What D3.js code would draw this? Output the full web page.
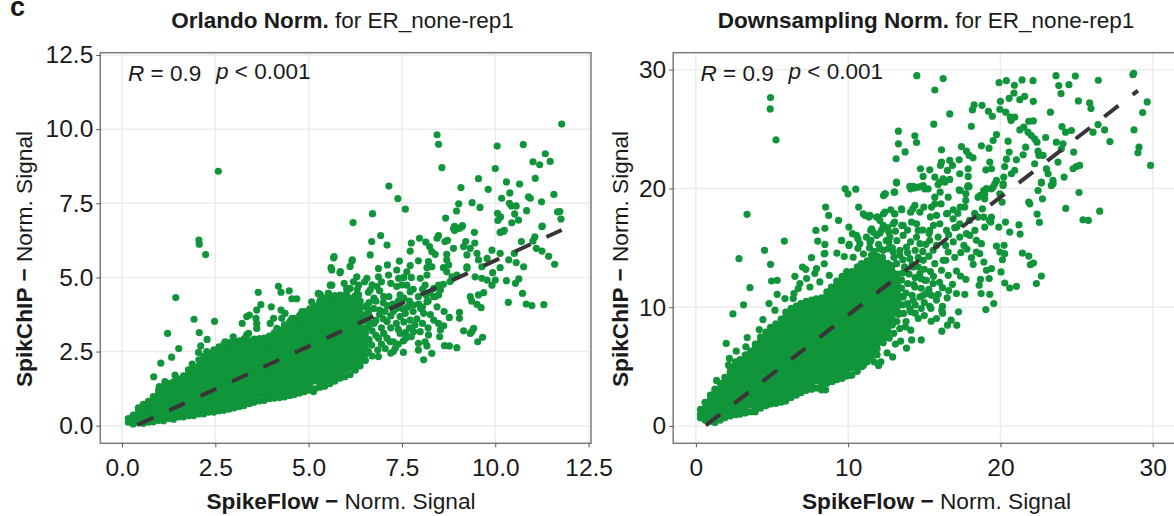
<!DOCTYPE html>
<html lang="en">
<head>
<meta charset="utf-8">
<title>SpikeFlow vs SpikChIP</title>
<script src="https://d3js.org/d3.v7.min.js"></script>
<style>
  html, body { margin: 0; padding: 0; background: #fff; overflow: hidden; }
  text { font-family: "Liberation Sans", Arial, sans-serif; fill: #1a1a1a; }
</style>
</head>
<body>
<div id="chart"></div>
<script>
// tick labels
var orlandoTicks = [0, 2.5, 5, 7.5, 10, 12.5];
var downsamplingTicks = [0, 10, 20, 30];

// fitted lines, [x, y] at both ends
var orlandoFit = [[0.42, 0.03], [11.78, 6.6]];
var downsamplingFit = [[0.65, 0.05], [29.03, 28.24]];

// points that can be told apart in the picture
var orlandoPoints = [[11.78,10.17],[8.44,9.81],[8.48,9.49],[8.57,8.7],[10.05,9.43],[10.75,9.48],[11.34,9.17],[11.01,8.9],[11.19,8.8],[11.47,8.91],[10,8.67],[9.55,8.33],[11.07,8.34],[10.3,8.22],[10.65,8.15],[7.15,8.08],[9.08,8.03],[9.81,7.97],[7.39,7.66],[10.39,7.85],[10.17,7.67],[10.89,7.72],[10.94,7.67],[11.57,7.8],[7.59,7.3],[9.38,7.52],[9.02,7.48],[9.59,7.36],[10.38,7.5],[10.43,7.41],[10.56,7.41],[11.24,7.55],[10.84,7.25],[8.96,7.24],[10.06,7.16],[10.52,7.14],[11.67,7.21],[11.73,7.22],[6.71,7.15],[6.19,6.85],[8.67,7],[10.14,7.04],[10.07,6.92],[10.62,6.93],[10.44,6.84],[11.76,6.97],[11.26,6.73],[8.91,6.72],[9.12,6.75],[8.91,6.58],[9.04,6.66],[9.44,6.52],[10.22,6.55],[10.14,6.53],[6.93,6.41],[6.69,6.21],[7.1,6.09],[7.75,6.16],[7.97,6.32],[8.14,6.19],[8.48,6.41],[8.44,6.32],[8.72,6.25],[8.65,6.21],[9.21,6.21],[9.45,6.16],[10.7,6.21],[11.06,6.37],[11.01,6.23],
[2.58,8.58],[2.06,6.26],[2.07,6.12],[2.24,5.77],[5.68,5.7],[6.17,5.59],
[8.88,6.65],[8.97,6.65],[9.11,6.71],[10.13,6.52],[10.24,6.59],[11.25,6.71],[7.72,5.89],[8.24,6.04],[8.3,5.87],[8.39,5.78],[11.1,5.98],[11.25,5.89],[11.43,5.71],[11.59,5.44],[5.67,5.66],[5.6,5.33],[5.85,5.2],[6.16,5.55],[6.11,5.37],[6.65,5.76],[7.43,5.55],[7.11,5.42],[6.87,5.3],[7.36,5.25],[7.72,5.4],[7.94,5.56],[8.21,5.53],[8.17,5.33],[8.7,5.78],[8.7,5.59],[8.88,5.98],[9.15,6.04],[9.33,5.98],[9.51,5.81],[9.24,5.76],[8.75,5.42],[8.61,5.33],[8.7,5.19],[8.84,5.02],[9.24,5.36],[9.55,5.59],[9.64,5.36],[9.91,5.92],[10.13,5.81],[9.78,5.64],[10.51,5.81],[10.36,5.59],[10.13,5.33],[10.56,5.5],[10.76,5.36],[9.46,5.02],[9.64,4.97],[9.78,4.91],[9.91,4.74],[10,4.91],[9.93,5.16],[10.3,4.89],[10.63,4.95],[10.54,4.8],[10.73,4.46],[10.35,4.16],[10.83,4.1],[10.98,4.05],[11.3,4.08],[9.69,4.49],[9.55,4.41],[9.33,4.35],[9.37,4.2],[9.51,4.09],[9.62,3.98],[9.04,3.82],[9.04,3.62],[8.77,3.65],[8.63,3.85],[8.44,4.01],[8.17,4.18],[8.48,4.41],[8.39,4.35],[8.35,4.63],[8.48,4.74],[8.08,3.79],[8.26,3.75],[8.35,3.56],[8.48,3.45],[8.62,3.37],[8.53,3.23],[8.51,3],[9.15,3.2],[9.37,3.17],[9.42,3.28],[9.33,3.11],[9.66,2.98],[9.53,2.83],[8.64,2.7],[8.77,2.69],[8.97,2.63],[8.21,3.06],[8.12,2.83],[7.94,2.78],[7.94,2.55],[8.17,2.69],[8.3,2.44],[8.08,2.22],[7.75,3],[7.54,2.86],[7.54,2.47],[7.32,2.61],[7.45,3.11],[7.27,2.83],[5.62,4.74],[5.26,4.44],[5.53,4.46],[6.02,4.63],[6.11,4.63],[6.29,5.02],[6.56,4.97],[6.87,5.02],[7.14,5.08],[7.41,4.97],[7.63,5.19],[7.63,4.74],[6.83,4.69],[7.36,4.69],[6.65,4.58],[6.34,4.74],[6.34,4.41],[7.01,4.35],[7.45,4.41],[7.72,4.52],[7.94,4.35],[8.35,4.35],[7.99,4.97],[8.17,5.08],[8.3,5.36],[8.12,4.74],[7.81,4.07],[7.59,3.79],[7.72,3.56],[7.85,3.4],[7.99,3.17],[7.81,3.17],[7.45,3.68],[7.1,3.51],[7.27,3.85],[7.01,3.11],[6.87,2.95],[6.69,2.72],[7.27,2.5],[7.18,2.83],[6.87,2.33],[6.6,2.5],[6.47,2.27],[8.97,5.08],[9.24,5.31],[8.79,4.86],[8.53,4.58],[8.61,4.77],
[1.44,4.32],[1.93,3.59],[2.48,3.52],[1.22,3.11],[2.07,3.14],[2.28,2.91],[1.52,2.6],[1.33,2.31],[1.04,2.11],[2.11,2.69],[2.05,2.47],[2.27,2.5],[1.88,2.08],[0.85,1.65],[2.18,2.16],[2.31,2.22],[1.78,1.88],[1.42,1.71],[1.47,1.6],[1.15,1.49],[1,1.32],[3.65,4.5],[4.19,4.7],[4.26,4.5],[4.48,4.55],[4.55,4.28],[4.68,4.28],[3.72,4.08],[3.61,3.9],[3.41,3.73],[3.34,3.68],[3.22,3.45],[3.59,3.62],[3.61,3.45],[3.61,3.28],[4,4.01],[4.26,3.9],[4.37,3.79],[4.06,3.62],[4.28,3.62],[3.97,3.45],[4.15,3.28],[3.34,3.06],[3.3,2.95],[3.39,3.11],[2.98,3],[2.76,2.83],[5.26,4.46],[5.31,4.43],[5.58,4.74],[5.53,4.46],[5.08,4.18],[6.02,4.49],[5.84,5.16],[5.62,5.25],[5.75,4.24],[5.4,4.24],[4.82,3.85],[4.55,3.62],[5.13,1.15],
[6.55,4.05],[6.62,3.7],[6.75,3.45],[6.9,3.9],[6.7,3.2],[6.52,3.1],[6.8,4.2],[7.1,4.05],[6.95,3.3],
[6.6,4.5],[6.75,4.3],[6.9,4.55],[7,4.15],[7.15,4.35],[7.25,4.1],[7.4,4.2],[7.55,4.3],[7.7,4.2],[6.62,4.15],[6.75,3.95],[6.62,3.9],[6.9,3.75],[7.05,3.85],[7.2,3.7],[7.35,3.95],[7.5,3.95],[7.65,4],[7.8,3.85],[7.95,4.1],[8,3.95],[8.15,4.4],[6.6,3.5],[6.8,3.55],[7,3.6],[7.2,3.3],[7.35,3.45],[7.55,3.5],[7.4,3.25],[7.6,3.15],[6.6,3.3],[6.8,3.05],[6.95,2.75],[7.1,2.95],[7.05,2.6],[6.7,2.35],[6.5,2.55],[6.85,2.55],[7.2,2.45],[7.4,2.75],[7.6,2.95],[7.7,3.3],[6.62,2.9],[6.45,2.85],[7.9,3.6],[8.05,3.45],[8.2,3.3],[6.7,4.75],[6.95,4.85],[7.2,4.8],[7.5,4.75],[7.8,4.6],[6.5,4.85],[6.3,4.6],[6.2,4.85],[5.95,4.8],[7.55,5],[7.75,5],[8.05,4.6],[8.25,4.5],[8.2,4.2],[8.05,4]];

// the solid cloud, read as columns: [x, [y, y, ...]]
var orlandoCore = [
[.17,[.12,.24]],[.3,[.06,.2,.36]],[.44,[.1,.28,.46,.6]],[.57,[.08,.2,.38,.56,.72]],[.71,[.12,.3,.48,.66,.82]],[.84,[.13,.32,.5,.68,.86,.98]],
[.98,[.18,.36,.54,.72,.9,1.08,1.2]],[1.11,[.17,.34,.52,.7,.88,1.06,1.24,1.32]],[1.25,[.24,.42,.6,.78,.96,1.14,1.32,1.42]],[1.38,[.22,.4,.58,.76,.94,1.12,1.3,1.48]],
[1.52,[.3,.48,.66,.84,1.02,1.2,1.38,1.56]],[1.65,[.3,.46,.64,.82,1,1.18,1.36,1.54,1.68]],[1.79,[.34,.52,.7,.88,1.06,1.24,1.42,1.6,1.76]],[1.92,[.34,.5,.68,.86,1.04,1.22,1.4,1.58,1.76,1.9]],
[2.06,[.4,.58,.76,.94,1.12,1.3,1.48,1.66,1.84,2.02,2.22]],[2.19,[.4,.56,.74,.92,1.1,1.28,1.46,1.64,1.82,2,2.18,2.34]],[2.33,[.46,.64,.82,1,1.18,1.36,1.54,1.72,1.9,2.08,2.26,2.44]],[2.46,[.46,.62,.8,.98,1.16,1.34,1.52,1.7,1.88,2.06,2.24,2.42,2.56]],
[2.6,[.5,.7,.88,1.06,1.24,1.42,1.6,1.78,1.96,2.14,2.32,2.5,2.66]],[2.73,[.52,.61,.79,.97,1.15,1.33,1.51,1.69,1.87,2.05,2.23,2.41,2.59,2.74]],[2.87,[.56,.7,.88,1.06,1.24,1.42,1.6,1.78,1.96,2.14,2.32,2.5,2.68,2.8]],[3,[.6,.79,.97,1.15,1.33,1.51,1.69,1.87,2.05,2.23,2.41,2.59,2.77,2.84]],
[3.14,[.65,.88,1.06,1.24,1.42,1.6,1.78,1.96,2.14,2.32,2.5,2.68,2.86]],[3.27,[.68,.79,.97,1.15,1.33,1.51,1.69,1.87,2.05,2.23,2.41,2.59,2.77,2.92]],[3.41,[.74,.88,1.06,1.24,1.42,1.6,1.78,1.96,2.14,2.32,2.5,2.68,2.86]],[3.54,[.79,.97,1.15,1.33,1.51,1.69,1.87,2.05,2.23,2.41,2.59,2.77,2.92]],
[3.68,[.84,1.06,1.24,1.42,1.6,1.78,1.96,2.14,2.32,2.5,2.68,2.86,2.94]],[3.81,[.85,.97,1.15,1.33,1.51,1.69,1.87,2.05,2.23,2.41,2.59,2.77,2.95]],[3.95,[.92,1.06,1.24,1.42,1.6,1.78,1.96,2.14,2.32,2.5,2.68,2.86,3.02]],[4.08,[.93,1.15,1.33,1.51,1.69,1.87,2.05,2.23,2.41,2.59,2.77,2.95,3.13]],
[4.22,[.95,1.06,1.24,1.42,1.6,1.78,1.96,2.14,2.32,2.5,2.68,2.86,3.04,3.22]],[4.35,[.97,1.15,1.33,1.51,1.69,1.87,2.05,2.23,2.41,2.59,2.77,2.95,3.13,3.31,3.4]],[4.49,[1.02,1.24,1.42,1.6,1.78,1.96,2.14,2.32,2.5,2.68,2.86,3.04,3.22,3.4,3.5]],[4.62,[1.05,1.15,1.33,1.51,1.69,1.87,2.05,2.23,2.41,2.59,2.77,2.95,3.13,3.31,3.49,3.62]],
[4.76,[1.1,1.24,1.42,1.6,1.78,1.96,2.14,2.32,2.5,2.68,2.86,3.04,3.22,3.4,3.58,3.72]],[4.89,[1.15,1.33,1.51,1.69,1.87,2.05,2.23,2.41,2.59,2.77,2.95,3.13,3.31,3.49,3.67,3.85]],[5.03,[1.2,1.42,1.6,1.78,1.96,2.14,2.32,2.5,2.68,2.86,3.04,3.22,3.4,3.58,3.76,3.94]],[5.16,[1.24,1.51,1.69,1.87,2.05,2.23,2.41,2.59,2.77,2.95,3.13,3.31,3.49,3.67,3.85,4.03]],
[5.3,[1.3,1.42,1.6,1.78,1.96,2.14,2.32,2.5,2.68,2.86,3.04,3.22,3.4,3.58,3.76,3.94,4.12,4.2]],[5.43,[1.33,1.51,1.69,1.87,2.05,2.23,2.41,2.59,2.77,2.95,3.13,3.31,3.49,3.67,3.85,4.03,4.21,4.3]],[5.57,[1.42,1.6,1.78,1.96,2.14,2.32,2.5,2.68,2.86,3.04,3.22,3.4,3.58,3.76,3.94,4.12,4.3]],[5.7,[1.5,1.69,1.87,2.05,2.23,2.41,2.59,2.77,2.95,3.13,3.31,3.49,3.67,3.85,4.03,4.21,4.39]],
[5.84,[1.6,1.78,1.96,2.14,2.32,2.5,2.68,2.86,3.04,3.22,3.4,3.58,3.76,3.94,4.12,4.3,4.4]],[5.97,[1.65,1.87,2.05,2.23,2.41,2.59,2.77,2.95,3.13,3.31,3.49,3.67,3.85,4.03,4.21,4.39]],[6.11,[1.72,1.96,2.14,2.32,2.5,2.68,2.86,3.04,3.22,3.4,3.58,3.76,3.94,4.12,4.3]],[6.25,[1.87,2.05,2.23,2.41,2.59,2.77,2.95,3.13,3.31,3.49,3.67,3.85,4.03,4.21,4.39]],
[6.38,[2.02,2.2,2.4,2.6,2.8,3,3.2,3.4,3.6,3.8,4,4.2]],[6.52,[2.2,2.42,2.7,2.95,3.3,3.55,3.75,4]]
];

var downsamplingPoints = [[14.51,29.5],[16.24,29.25],[15.69,28.29],[19.91,28.91],[20.39,29.08],[20.92,28.69],[21.42,29.14],[22.14,29.08],[23.65,29.5],[24.92,29.47],[23.83,28.66],[24.5,28.74],[26.43,29.11],[28.75,29.7],[28.7,29.58],[23.98,27.99],[20.89,28.04],[21.59,27.76],[21.27,27.48],[20.57,27.59],[20,27.34],[22.16,27.34],[25.12,27.37],[25.86,27.2],[25.95,26.73],[29.64,27.29],[29.34,26.39],[18.27,27.03],[18.16,26.61],[18.79,27],[19.21,26.5],[19.47,26.08],[19.96,26.67],[20.35,26.42],[16.67,26.28],[15.62,25.41],[18.09,25.24],[20.7,25.72],[20.94,26],[20.65,26],[21.86,25.66],[22.16,25.69],[23.28,26.42],[13.3,24.82],[14.38,24.43],[13.3,23.76],[14.49,23.87],[13.74,23.08],[13.15,22.5],[24.04,25.21],[24.66,24.88],[24.28,24.74],[21.27,24.93],[21.53,25.16],[21.81,24.74],[22.03,24.46],[22.25,24.18],[22.4,23.9],[19.74,24.54],[19.52,24.04],[20.5,23.98],[22.97,24.29],[23.67,23.9],[24.11,23.76],[24,23.34],[26.08,24.74],[26.41,25.38],[26.84,24.93],[27.19,23.95],[28.77,24.93],[29.1,23.48],[29.03,23],[29.86,21.94],[16.13,23.25],[17.44,23.53],[17.77,23.14],[18.2,22.58],[17.94,22.78],[18.75,23.59],[19.25,23.39],[21.66,23.48],[21.49,22.83],[21.05,22.41],[20.57,23.06],[20.39,22.47],[22.47,23.14],[22.8,22.78],[22.25,22.08],[22.53,22.78],[23.78,22.22],[24.81,23.06],[25.2,21.94],[24.98,21.85],[24.77,21.66],[24.18,20.96],[23.02,21.66],[23.13,21.24],[22.69,20.54],[23.45,20.68],[23.34,20.26],[16.13,22.22],[16.06,21.94],[16.67,22.36],[16.85,21.94],[17.29,22.41],[16.52,21.52],[14.75,21.66],[15.36,21.57],[14.92,21.01],[15.69,20.96],[16.24,20.82],[16.67,20.76],[16.02,20.54],[14.27,20.17],[14.81,20.17],[13.17,20.54],[17.33,21.24],[17.88,21.66],[17.88,21.01],[17.94,20.17],[17.29,19.89],[19.3,22.22],[19.04,21.57],[19.41,21.66],[20.28,21.85],[20.94,21.52],[20.72,21.24],[19.74,20.68],[20.22,20.96],[20.17,20.26],[19.08,19.98],[19.52,20.12],
[4.9,27.65],[4.88,26.7],[5.26,24.09],[3.36,17.82],[5.81,15.57],[4.51,14.79],[2.83,14.09],[7.59,14.17],[7.88,16.47],[8.47,16.64],[8.52,18.43],[8.72,17.73],[9.37,17.31],[8,15.57],[8.47,14.54],[9.26,14.56],[9.8,19.97],[9.99,19.55],[10.5,19.94],[12.44,19.55],[12.32,19.4],[13.05,19.69],[10.69,18.43],[11.12,17.73],[11.36,17.59],[11.95,17.59],[12.32,17.87],[13.05,17.87],[13.52,18.21],[14.11,19.97],[14.6,20.11],[15.03,19.97],[15.69,19.27],[16.04,19.69],[14.25,18.3],[14.97,18.43],[15.69,18.7],[10.05,16.75],[11.48,16.47],[10.28,16.19],[10.64,15.77],[11.49,15.63],[9.56,15.63],[10.05,15.2],[10.64,14.96],[12.08,17.31],[12.67,16.33],[13.05,17.17],[13.52,16.89],[12.08,16.22],[12.67,15.49],[15.32,16.2],[14.6,16.47],[16.52,17.9],[17.36,18.43],[17.72,18.99],[17.85,20.11],[17.36,19.83],[18.9,19.83],[18.69,19.41],[17.13,16.75],[17.97,17.31],[18.31,17.9],[18.9,17.59],[19.28,17.31],
[13.18,20.45],[14.05,20.17],[14.38,20.05],[14.93,20.25],[15.25,19.97],[12.41,19.55],[13.02,19.69],[15.91,20.33],[16.35,20.53],[17.33,19.83],[17.88,20.25],[17.73,19.55],[18.53,19.27],[18.97,19.55],[18.97,19.13],[19.41,19.97],[19.96,19.55],[20.18,20.39],[19.63,20.39],[20.11,18.85],[18.82,18.29],[22.47,19.83],[22.76,19.13],[21.93,18.71],[21.86,18.85],[22.69,20.45],[23.46,20.39],[25.16,19.66],[24.29,18.32],[22.41,17.84],[22.56,17.14],[25.42,17.36],[25.77,17.31],[26.52,18.09],[21.22,16.94],[21.29,16.16],[20.33,17.17],[19.89,16.75],[20.61,16.33],[19.41,17.59],[19.37,17.17],[18.97,16.75],[18.53,17.59],[19.74,15.15],[20.24,15.21],[19.96,14.65],[20.28,14.51],[20.13,14],[21.44,14.56],[21.86,14.31],[22.17,13.72],[21.97,13.58],[22.69,12.63],[22.36,11.99],[20.04,12.97],[19.41,13.25],[19.08,13.11],[19.26,12.41],[20.28,12.04],[20.61,11.62],[21.05,11.76],[18.69,12.35],[18.6,11.85],[18.73,11.15],[19.3,11.09],[19.56,10.31],[19.04,9.8],[18.42,15.63],[17.99,16.05],[18.75,15.35],[18.42,14.65],[18.64,14.51],[18.1,14.17],[18.21,13.61],[18.91,13.81],[17.11,13.05],[17.38,12.63],[17.73,12.35],[16.85,11.93],[16.19,11.65],[17.66,11.09],[17.11,11.15],[16.5,10.78],[16.19,10.08],[15.36,10.08],[15.91,11.09],[15.47,11],[14.93,11],[16.57,12.69],[16.13,13.11],[15.69,13.67],[16.41,13.95],[15.04,12.27],[14.38,11.71],[14.71,10.87],[17.33,15.91],[17.77,16.19],[18.32,16.47],[17.33,17.03],[17.66,18.43],[16.57,19.27],[16.46,17.87],[16.89,17.45],[13.5,18.29],[13.07,17.87],[12.41,18.01],[11.86,17.59],[11.43,17.73],[10.99,17.87],[14.38,18.57],[14.71,18.01],[15.47,18.43],[15.8,17.73],[11.54,16.61],[11.43,15.49],[12.3,16.89],[12.96,17.03],[13.61,16.89],[14.16,17.17],[14.49,17.03],[15.36,16.47],[16.02,17.03],[16.46,16.47],[12.63,14.93],[13.83,15.07],[14.71,15.35],[15.58,14.79],[16.57,14.65],[16.24,13.95],[11.86,16.05],[12.74,15.91],[13.61,16.05],[14.49,15.91],[15.36,15.63],[15.91,15.91],[12.08,14.93],[13.18,13.67],[14.05,14.09],[14.93,13.95],[13.39,14.37],[12.96,14.65],[15.14,12.27],[15.58,11.99],[15.14,11.15],[14.27,10.59],[13.61,10.87],[13.29,10.17],[14.05,9.89],[14.71,12.83],[14.27,13.39],
[17.25,9.61],[17.13,8.49],[16.76,8.91],[16.52,8.49],[16.15,7.98],[15.8,9.05],[15.45,8.82],[16.15,9.75],[15.43,9.89],[14.8,9.89],[14.6,9.05],[14.8,7.25],[14.17,7.25],[13.83,6.55],[13.45,7.15],[12.92,5.82],[12.56,6.15],[12.15,5.41],[12,5.1],[14.11,8.07],[13.76,8.35],[13.39,8.2],[12.54,7.5],[12.08,7.33],[13.64,9.48],[14.11,9.61],[11.48,5.73],[11,5.09],[10.15,4.25],[8.96,3.75],[8.24,3.05],[8.52,3.05],
[4.9,13.61],[3.55,11.65],[4.97,12.21],[5.34,12.27],[3.13,10.2],[2.43,9.44],[4.8,10.31],[5.19,9.75],[4.4,8.96],[5.34,11.09],[5.85,10.73],[6.44,11.15],[6.39,10.73],[4.16,8.12],[1.99,6.95],[3.37,7.45],[3.28,6.67],[2.65,6.3],[2.2,5.69],[2.14,5.13],[1.36,3.84],[6.5,12.6],[7,13.38],[7.22,13.19],[7.92,13.25],[7.81,12.83],[7.27,12.41],[6.83,11.99],[6.72,11.57],[7.49,11.7],[8.76,12.69],[8.14,12.13],[8.47,15.29],[8.43,14.5],[8.43,13.66],[9.74,14.27],[9.57,15.6],[10.07,15.29],[10.77,15.35],[10.33,14.21],[11.53,14.37],[10.88,13.67],[10.55,16.05],[11.64,16.33],
[11,14.5],[11.4,15],[11.2,15.9],[11.7,14.7],[12,15.3],[12.3,14.8],[12.5,15.6],[12.9,15],[13,14.2],[13.2,15.6],[13.4,14.8],[13.6,14],[13.9,14.6],[14.1,15.5],[14.4,14.8],[14.6,14.2],[14.9,14.7],[15.1,15.3],[15.3,14.3],[15.8,15.2],[12.2,16.5],[12.6,16.7],[13.1,16.4],[13.9,16.5],[14.9,16.5],[15.6,16.9],[14.2,13.6],[14.6,13.4],[15,13.2],[15.4,13],[13.7,13.4],[13.6,12.9],[14,12.8],[14.4,12.5],[14.8,12.4],[13.5,12.3],[13.9,12],[14.3,11.9],[14.8,11.6],[13.5,11.6],[13.8,11.2],[14.2,11],[13.5,10.9],[13.9,10.3],[14.4,10.2],[15,10.4],[15.3,11.5],[15.6,12.6],[15.8,10.6],[16,12.1],[16.6,11.4],[16.2,9.5],[13.6,10.2],[13.3,9.4],[12.9,8.6],[13.2,8.8],[13.8,8.8],[14.4,9.5],[12.3,7],[12.7,7.4],[13,7.8],[13.1,6.9],[11.7,5.4],[11.9,6],[15,9.3],[17,14.2],[17.4,14.6],[17.6,15.2],[16.9,15.5],[16.4,15.2],[16.6,16.1],[17,16.7],[15.4,17.6],[14.1,18],[12.8,18.2],[16.1,18.7],[16.9,18.2],[17.2,17.9],[17.8,14.9]];

var downsamplingCore = [
[.3,[.7,1,1.4]],[.6,[.5,.8,1.1,1.5,2]],[.95,[.4,.9,1.3,1.8,2.2,2.6]],[1.25,[.3,.6,1.1,1.5,2,2.4,2.9,3.1]],[1.6,[.5,.9,1.3,1.8,2.2,2.7,3.1,3.6]],[1.9,[.7,1.1,1.5,2,2.4,2.9,3.3,3.8,4.1]],
[2.25,[.85,1.3,1.8,2.2,2.7,3.1,3.6,4,4.5,4.9]],[2.6,[.95,1.5,2,2.4,2.9,3.3,3.8,4.2,4.7,5.1,5.4]],[2.9,[1,1.3,1.8,2.2,2.7,3.1,3.6,4,4.5,4.9,5.4,5.6]],[3.25,[1.1,1.5,2,2.4,2.9,3.3,3.8,4.2,4.7,5.1,5.6,6]],
[3.6,[1.2,1.8,2.2,2.7,3.1,3.6,4,4.5,4.9,5.4,5.8,6.3]],[3.9,[1.2,1.5,2,2.4,2.9,3.3,3.8,4.2,4.7,5.1,5.6,6,6.5,6.9]],[4.25,[1.5,1.8,2.2,2.7,3.1,3.6,4,4.5,4.9,5.4,5.8,6.3,6.7,7.2,7.5]],[4.6,[1.7,2,2.4,2.9,3.3,3.8,4.2,4.7,5.1,5.6,6,6.5,6.9,7.4,7.9]],
[4.9,[1.85,2.2,2.7,3.1,3.6,4,4.5,4.9,5.4,5.8,6.3,6.7,7.2,7.6,8.1,8.3]],[5.25,[1.9,2.4,2.9,3.3,3.8,4.2,4.7,5.1,5.6,6,6.5,6.9,7.4,7.8,8.3,8.6]],[5.6,[2,2.2,2.7,3.1,3.6,4,4.5,4.9,5.4,5.8,6.3,6.7,7.2,7.6,8.1,8.5,9]],[5.9,[2.1,2.4,2.9,3.3,3.8,4.2,4.7,5.1,5.6,6,6.5,6.9,7.4,7.8,8.3,8.7,9.2,9.6]],
[6.25,[2.4,2.7,3.1,3.6,4,4.5,4.9,5.4,5.8,6.3,6.7,7.2,7.6,8.1,8.5,9,9.4,9.9]],[6.6,[2.6,2.9,3.3,3.8,4.2,4.7,5.1,5.6,6,6.5,6.9,7.4,7.8,8.3,8.7,9.2,9.6,10.1]],[6.9,[2.8,3.1,3.6,4,4.5,4.9,5.4,5.8,6.3,6.7,7.2,7.6,8.1,8.5,9,9.4,9.9,10.3]],[7.25,[3,3.3,3.8,4.2,4.7,5.1,5.6,6,6.5,6.9,7.4,7.8,8.3,8.7,9.2,9.6,10.1,10.5]],
[7.6,[3.1,3.6,4,4.5,4.9,5.4,5.8,6.3,6.7,7.2,7.6,8.1,8.5,9,9.4,9.9,10.3,10.6]],[7.9,[3.2,3.8,4.2,4.7,5.1,5.6,6,6.5,6.9,7.4,7.8,8.3,8.7,9.2,9.6,10.1,10.5,10.7]],[8.25,[3.4,3.6,4,4.5,4.9,5.4,5.8,6.3,6.7,7.2,7.6,8.1,8.5,9,9.4,9.9,10.3,10.8]],[8.6,[3.6,3.8,4.2,4.7,5.1,5.6,6,6.5,6.9,7.4,7.8,8.3,8.7,9.2,9.6,10.1,10.5,11,11.3]],
[8.9,[3.8,4,4.5,4.9,5.4,5.8,6.3,6.7,7.2,7.6,8.1,8.5,9,9.4,9.9,10.3,10.8,11.2,11.7]],[9.25,[3.9,4.2,4.7,5.1,5.6,6,6.5,6.9,7.4,7.8,8.3,8.7,9.2,9.6,10.1,10.5,11,11.4,11.9,12.2]],[9.6,[4,4.5,4.9,5.4,5.8,6.3,6.7,7.2,7.6,8.1,8.5,9,9.4,9.9,10.3,10.8,11.2,11.7,12.1,12.6]],[9.9,[4.2,4.7,5.1,5.6,6,6.5,6.9,7.4,7.8,8.3,8.7,9.2,9.6,10.1,10.5,11,11.4,11.9,12.3,12.8,13]],
[10.25,[4.3,4.9,5.4,5.8,6.3,6.7,7.2,7.6,8.1,8.5,9,9.4,9.9,10.3,10.8,11.2,11.7,12.1,12.6,13]],[10.6,[4.6,5.1,5.6,6,6.5,6.9,7.4,7.8,8.3,8.7,9.2,9.6,10.1,10.5,11,11.4,11.9,12.3,12.8,13.2,13.4]],[10.9,[5,5.4,5.8,6.3,6.7,7.2,7.6,8.1,8.5,9,9.4,9.9,10.3,10.8,11.2,11.7,12.1,12.6,13,13.5]],[11.25,[5.4,5.6,6,6.5,6.9,7.4,7.8,8.3,8.7,9.2,9.6,10.1,10.5,11,11.4,11.9,12.3,12.8,13.2,13.7,13.9]],
[11.6,[6,6.3,6.7,7.2,7.6,8.1,8.5,9,9.4,9.9,10.3,10.8,11.2,11.7,12.1,12.6,13,13.5,13.9,14.2]],[11.9,[6.5,6.9,7.4,7.8,8.3,8.7,9.2,9.6,10.1,10.5,11,11.4,11.9,12.3,12.8,13.2,13.7,14.1,14.3]],[12.25,[7.4,7.6,8.1,8.5,9,9.4,9.9,10.3,10.8,11.2,11.7,12.1,12.6,13,13.5,13.9,14.2]],[12.6,[8,8.3,8.7,9.2,9.6,10.1,10.5,11,11.4,11.9,12.3,12.8,13.2,13.7]],
[12.9,[8.5,9,9.4,9.9,10.3,10.8,11.2,11.7,12.1,12.6,13,13.5]],[13.25,[9.6,10.1,10.5,11,11.4,11.9,12.3,12.8]]
];

var green = "#11953a";
var lineColor = "#3a3438";
var gridColor = "#ececec";
var borderColor = "#7b7b7b";
var tickFont = 24.5;
var labelFont = 22.7;
var titleFont = 22.5;
var statFont = 22.5;

var svg = d3.select("#chart").append("svg")
    .attr("width", 1174)
    .attr("height", 516);

svg.append("text")
    .attr("x", 10)
    .attr("y", 16)
    .style("font-size", "27px")
    .style("font-weight", "bold")
    .text("c");

function drawPanel(p) {
    var x = d3.scaleLinear().domain(p.xDomain).range(p.xRange);
    var y = d3.scaleLinear().domain(p.yDomain).range(p.yRange);
    var g = svg.append("g");

    // grid
    g.selectAll(".vgrid").data(p.ticks).enter().append("line")
        .attr("x1", d => x(d)).attr("x2", d => x(d))
        .attr("y1", p.top).attr("y2", p.bottom)
        .attr("stroke", gridColor).attr("stroke-width", 1.5);
    g.selectAll(".hgrid").data(p.ticks).enter().append("line")
        .attr("y1", d => y(d)).attr("y2", d => y(d))
        .attr("x1", p.left).attr("x2", p.right)
        .attr("stroke", gridColor).attr("stroke-width", 1.5);

    // core columns first, single points above them
    var core = p.core.flatMap(c => c[1].map(v => [c[0], v]));
    g.selectAll(".dot").data(core.concat(p.points)).enter().append("circle")
        .attr("cx", d => x(d[0]))
        .attr("cy", d => y(d[1]))
        .attr("r", 3.6)
        .attr("fill", green);

    g.append("path")
        .attr("d", d3.line().x(d => x(d[0])).y(d => y(d[1]))(p.fit))
        .attr("fill", "none")
        .attr("stroke", lineColor)
        .attr("stroke-width", 4)
        .attr("stroke-dasharray", p.dash);

    g.append("rect")
        .attr("x", p.left).attr("y", p.top)
        .attr("width", p.right - p.left).attr("height", p.bottom - p.top)
        .attr("fill", "none")
        .attr("stroke", borderColor)
        .attr("stroke-width", 1.5);

    // axes
    var xAxis = g.append("g")
        .attr("transform", "translate(0," + p.bottom + ")")
        .call(d3.axisBottom(x).tickValues(p.ticks).tickFormat(p.format).tickSize(4).tickPadding(11));
    var yAxis = g.append("g")
        .attr("transform", "translate(" + p.left + ",0)")
        .call(d3.axisLeft(y).tickValues(p.ticks).tickFormat(p.format).tickSize(4).tickPadding(3));
    xAxis.select(".domain").remove();
    yAxis.select(".domain").remove();
    g.selectAll(".tick line").attr("stroke", "#555");
    g.selectAll(".tick text").style("font-size", tickFont + "px").style("font-family", '"Liberation Sans", Arial, sans-serif').attr("fill", "#262626");

    // title
    var title = g.append("text")
        .attr("x", p.titleX).attr("y", 27.5)
        .attr("text-anchor", "middle")
        .style("font-size", titleFont + "px");
    title.append("tspan").style("font-weight", "bold").text(p.title);
    title.append("tspan").text(" for ER_none-rep1");

    // axis labels
    var xLabel = g.append("text")
        .attr("x", p.xLabelX).attr("y", 509)
        .attr("text-anchor", "middle")
        .style("font-size", labelFont + "px");
    xLabel.append("tspan").style("font-weight", "bold").text("SpikeFlow \u2212");
    xLabel.append("tspan").text(" Norm. Signal");

    var yLabel = g.append("text")
        .attr("transform", "translate(" + p.yLabelX + ",259) rotate(-90)")
        .attr("text-anchor", "middle")
        .style("font-size", labelFont + "px");
    yLabel.append("tspan").style("font-weight", "bold").text("SpikChIP \u2212");
    yLabel.append("tspan").text(" Norm. Signal");

    // correlation text
    var r = g.append("text").attr("x", p.statX).attr("y", 81).style("font-size", statFont + "px");
    r.append("tspan").style("font-style", "italic").text("R");
    r.append("tspan").text(" = 0.9");
    var pv = g.append("text").attr("x", p.statX + 88).attr("y", 79).style("font-size", statFont + "px");
    pv.append("tspan").style("font-style", "italic").text("p");
    pv.append("tspan").text(" < 0.001");
}

drawPanel({
    title: "Orlando Norm.", titleX: 342.5, xLabelX: 341, yLabelX: 32, statX: 128,
    xDomain: [0, 12.5], xRange: [122, 588.6],
    yDomain: [0, 12.5], yRange: [425.7, 55],
    left: 100.3, right: 591, top: 52.7, bottom: 443.3,
    ticks: orlandoTicks, format: d3.format(".1f"),
    points: orlandoPoints, core: orlandoCore, fit: orlandoFit, dash: "17.3,17.3"
});

drawPanel({
    title: "Downsampling Norm.", titleX: 926, xLabelX: 936.5, yLabelX: 627.5, statX: 700.5,
    xDomain: [0, 30], xRange: [695.9, 1152.7],
    yDomain: [0, 30], yRange: [426, 69.7],
    left: 673.2, right: 1178, top: 52.7, bottom: 443.3,
    ticks: downsamplingTicks, format: d3.format("d"),
    points: downsamplingPoints, core: downsamplingCore, fit: downsamplingFit, dash: "18,18"
});
</script>
</body>
</html>
